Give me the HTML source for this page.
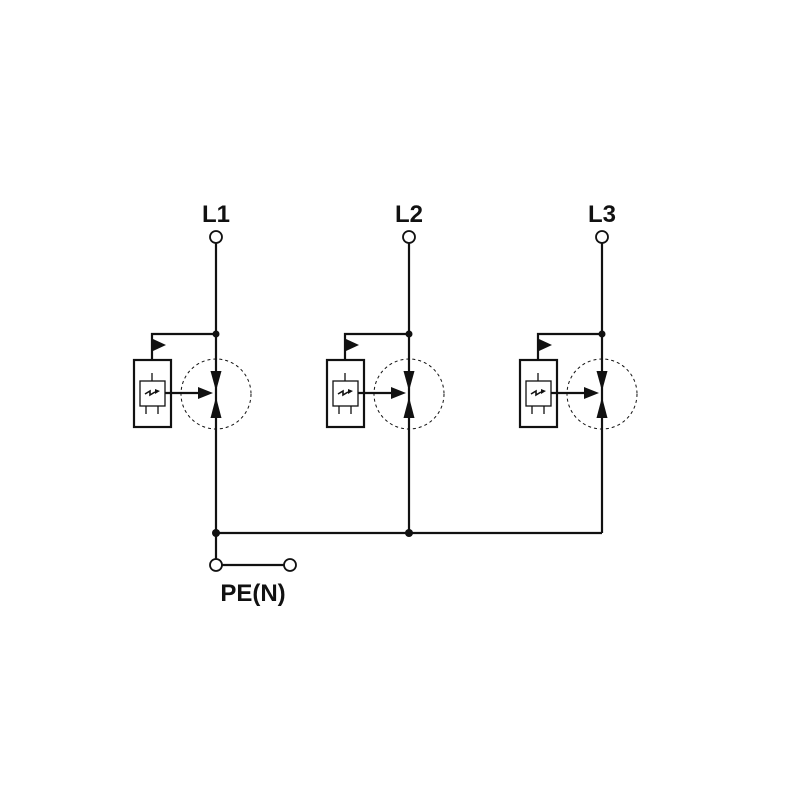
<!DOCTYPE html><html><head><style>body{margin:0;background:#fff}</style></head><body>
<svg width="800" height="800" viewBox="0 0 800 800" xmlns="http://www.w3.org/2000/svg">
<defs>
<g id="m" fill="none" stroke="#111" stroke-width="2.2">
<circle cx="216" cy="237" r="6" fill="#fff" stroke-width="1.8"/>
<line x1="216" y1="243" x2="216" y2="533"/>
<polyline points="216,334 152,334 152,360"/>
<polygon points="153,339 166,345 153,351" fill="#111" stroke="none"/>
<rect x="134" y="360" width="37" height="67"/>
<rect x="140" y="381" width="25" height="25" stroke-width="1.3"/>
<line x1="152" y1="373" x2="152" y2="381" stroke-width="1.3"/>
<line x1="146" y1="406" x2="146" y2="414" stroke-width="1.3"/>
<line x1="158" y1="406" x2="158" y2="414" stroke-width="1.3"/>
<path d="M145,394 l5,-3 l0,4 l5,-3" stroke-width="1.6"/>
<polygon points="155,389 160,391 155,394" fill="#111" stroke="none"/>
<line x1="165" y1="393" x2="200" y2="393"/>
<polygon points="198,387 213,393 198,399" fill="#111" stroke="none"/>
<circle cx="216" cy="394" r="35" stroke-width="1" stroke-dasharray="3,3"/>
<polygon points="210.5,371 221.5,371 216,391" fill="#111" stroke="none"/>
<polygon points="210.5,418 221.5,418 216,397" fill="#111" stroke="none"/>
<circle cx="216" cy="334" r="3.5" fill="#111" stroke="none"/>
</g>
</defs>
<use href="#m"/>
<use href="#m" x="193"/>
<use href="#m" x="386"/>
<g fill="none" stroke="#111" stroke-width="2.2">
<line x1="216" y1="533" x2="602" y2="533"/>
<line x1="216" y1="533" x2="216" y2="559"/>
<line x1="222" y1="565" x2="284" y2="565"/>
<circle cx="216" cy="565" r="6" fill="#fff" stroke-width="1.8"/>
<circle cx="290" cy="565" r="6" fill="#fff" stroke-width="1.8"/>
</g>
<circle cx="216" cy="533" r="4" fill="#111"/>
<circle cx="409" cy="533" r="4" fill="#111"/>
<g font-family="Liberation Sans, sans-serif" font-weight="bold" font-size="24" fill="#111" text-anchor="middle">
<text x="216" y="222">L1</text>
<text x="409" y="222">L2</text>
<text x="602" y="222">L3</text>
<text x="253" y="601">PE(N)</text>
</g>
</svg>
</body></html>
